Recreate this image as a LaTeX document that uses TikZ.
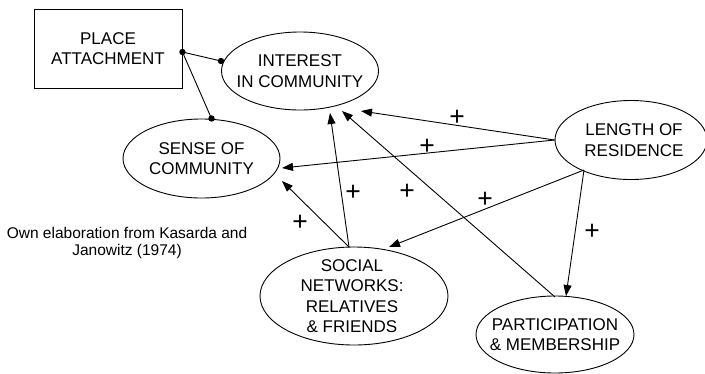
\documentclass[tikz,border=0pt]{standalone}
\usepackage{fontspec}
\setmainfont{Liberation Sans}
\usetikzlibrary{arrows.meta,calc,shapes.geometric}
\begin{document}
\begin{tikzpicture}[x=1pt,y=-1pt,
 lbl/.style={font=\fontsize{17}{20.5}\selectfont, align=center},
 oval/.style={draw, ellipse, line width=0.9pt, inner sep=0pt},
 conn/.style={line width=0.9pt, -{Triangle[length=11pt,width=8pt]}},
 link/.style={line width=0.9pt},
 plus/.style={font=\fontsize{26.5}{26.5}\selectfont, inner sep=0pt}]
\useasboundingbox (0,0) rectangle (705,373);
\node[draw, line width=0.9pt, minimum width=148pt, minimum height=79pt, lbl] (pa) at (108,48.5) {PLACE\\ATTACHMENT};
\node[oval, minimum width=157pt, minimum height=78pt, label={[lbl]center:{INTEREST\\IN COMMUNITY}}] (int) at (300,71) {};
\node[oval, minimum width=157pt, minimum height=79pt, label={[lbl]center:{SENSE OF\\COMMUNITY}}] (sen) at (201.5,158.5) {};
\node[oval, minimum width=152pt, minimum height=79pt, label={[lbl,xshift=3pt]center:{LENGTH OF\\RESIDENCE}}] (len) at (631,140) {};
\node[oval, minimum width=188pt, minimum height=98pt, label={[lbl,xshift=-2pt]center:{SOCIAL\\NETWORKS:\\RELATIVES\\\& FRIENDS}}] (soc) at (354,296) {};
\node[oval, minimum width=158pt, minimum height=77pt, label={[lbl]center:{PARTICIPATION\\\& MEMBERSHIP}}] (par) at (555,334.5) {};
\node[font=\fontsize{15.5}{17.5}\selectfont, align=center] (cap) at (127,243) {Own elaboration from Kasarda and\\Janowitz (1974)};
% place attachment links
\draw[link] ($(pa.east)+(0,3.5)$) -- ($(int.center)+(-79,-10)$);
\draw[link] ($(pa.east)+(0,3.5)$) -- ($(sen.center)+(10,-40)$);
\fill ($(pa.east)+(0,3.5)$) circle (3.2pt);
\fill ($(int.center)+(-79,-10)$) circle (3.2pt);
\fill ($(sen.center)+(10,-40)$) circle (3.2pt);
% arrows
\draw[conn] (len.180) -- ($(int.center)+(61,40)$);
\draw[conn] (len.180) -- ($(sen.center)+(80.5,9.5)$);
\draw[conn] ($(len.center)+(-47,30)$) -- ($(soc.center)+(35,-49)$);
\draw[conn] ($(len.center)+(-47,30)$) -- ($(par.center)+(11,-38.5)$);
\draw[conn] ($(soc.center)+(-5,-49)$) -- ($(sen.center)+(80.5,22.5)$);
\draw[conn] ($(soc.center)+(-5,-49)$) -- ($(int.center)+(30,42)$);
\draw[conn] ($(par.center)+(0,-37.5)$) -- ($(int.center)+(42,40)$);
% plus signs
\node[plus] (p1) at (457,118) {+};
\node[plus] (p2) at (427,147) {+};
\node[plus] (p3) at (353,193) {+};
\node[plus] (p4) at (407,192) {+};
\node[plus] (p5) at (485,200) {+};
\node[plus] (p6) at (592,232) {+};
\node[plus] (p7) at (300,223) {+};
\end{tikzpicture}
\end{document}
